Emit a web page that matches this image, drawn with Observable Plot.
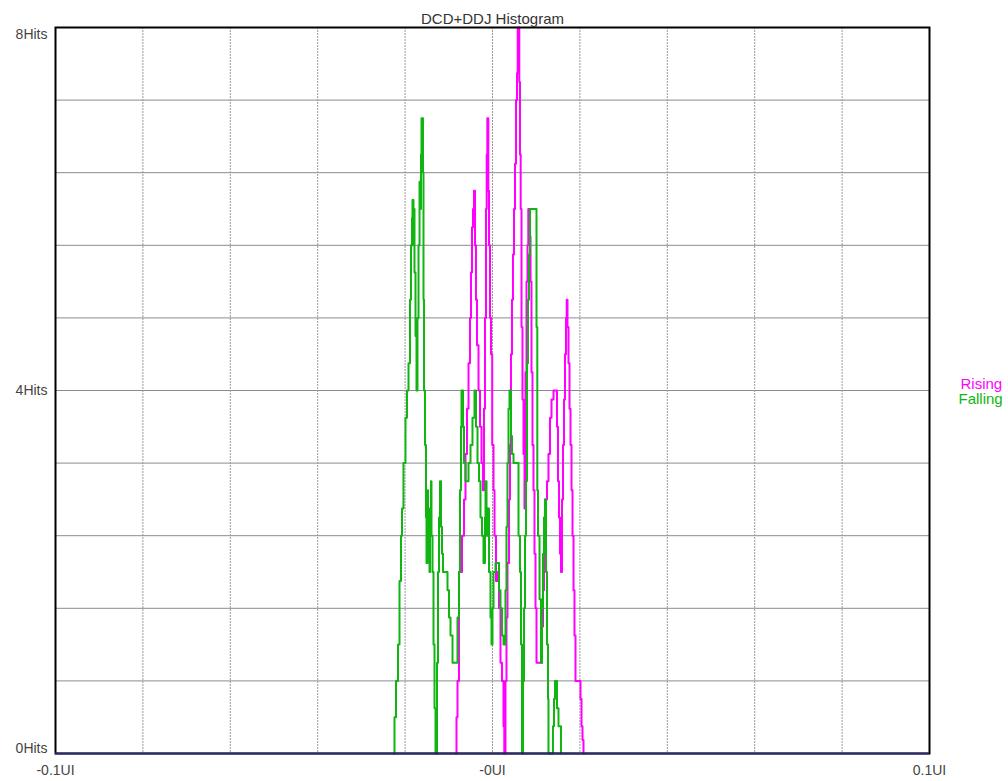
<!DOCTYPE html>
<html>
<head>
<meta charset="utf-8">
<script src="https://cdn.jsdelivr.net/npm/d3@7"></script>
<script src="https://cdn.jsdelivr.net/npm/@observablehq/plot@0.6"></script>
<style>
  html, body { margin: 0; padding: 0; background: #fff; }
  svg { display: block; }
</style>
</head>
<body>
<div id="chart"></div>
<script>
// ---- data (x in milli-UI, y in hits) ----
const chartTitle = "DCD+DDJ Histogram";
const xTicks = [-100, 0, 100];
const xTickLabels = ["-0.1UI", "-0UI", "0.1UI"];
const yTicks = [8, 4, 0];
const yTickLabels = ["8Hits", "4Hits", "0Hits"];
const seriesNames = ["Rising", "Falling"];

const risingX = [-8.35, -8.24, -8.01, -7.67, -6.98, -6.52, -6.18, -5.84, -5.49, -5.15, -4.92, -4.69, -4.46, -4.23, -4.00,
  -3.78, -3.55, -3.20, -2.86, -2.52, -2.17, -1.95, -1.72, -1.49, -1.33, -1.19, -0.96, -0.80, -0.57, -0.34, -0.07,
  0.23, 0.46, 0.80, 1.14, 1.49, 1.83, 2.17, 2.52, 2.70, 2.97, 3.20, 3.43, 3.78, 4.00, 4.23, 4.46, 4.69, 4.92, 5.15,
  5.38, 5.61, 5.77, 6.13, 6.29, 6.45, 6.64, 6.86, 7.09, 7.32, 7.55, 7.78, 8.01, 8.19, 8.47, 8.70, 8.92, 9.15, 9.38,
  9.61, 9.84, 10.07, 11.33, 11.56, 11.78, 12.01, 12.47, 12.81, 13.16, 13.50, 13.96, 14.76, 14.99, 15.22, 15.45, 15.67,
  15.90, 16.13, 16.36, 16.59, 16.82, 16.98, 17.16, 17.39, 17.62, 17.85, 18.08, 18.31, 18.54, 18.76, 18.99, 20.14,
  20.37, 20.59, 20.82];
const risingHits = [0, 0.4, 0.8, 2.0, 2.4, 2.8, 3.3, 3.8, 4.3, 4.8, 5.3, 5.8, 6.0, 6.2, 5.6,
  5.0, 4.5, 4.0, 3.6, 3.2, 2.9, 3.8, 4.8, 6.0, 6.6, 7.0, 6.2, 5.6, 4.8, 4.4, 3.4,
  2.9, 2.4, 1.9, 2.0, 1.6, 1.0, 0.8, 0.3, 0, 0.8, 1.5, 2.1, 2.8, 3.4, 4.4, 5.0, 5.5, 6.0, 6.5,
  7.2, 7.5, 8.0, 7.4, 6.6, 6.0, 4.7, 3.9, 3.3, 2.7, 4.2, 5.2, 5.6, 6.0, 5.7, 5.2, 4.2, 3.4, 2.9,
  2.2, 1.6, 1.0, 1.4, 1.8, 2.4, 2.8, 3.0, 3.3, 3.7, 3.9, 4.0, 3.6, 3.0, 2.6, 2.2, 2.0,
  2.8, 3.4, 3.9, 4.4, 4.8, 5.0, 4.7, 4.3, 3.8, 3.4, 2.9, 2.4, 1.8, 1.3, 0.8, 0.6,
  0.3, 0.15, 0];

const fallingX = [-22.65, -22.43, -22.08, -21.62, -21.28, -20.94, -20.71, -20.37, -19.91, -19.57, -19.22, -18.88,
  -18.65, -18.42, -18.31, -18.08, -17.96, -17.85, -17.62, -17.39, -17.16, -16.93, -16.70, -16.48, -16.36, -16.25,
  -15.90, -15.79, -15.67, -15.45, -15.22, -15.10, -14.87, -14.76, -14.65, -14.42, -14.30, -14.07, -13.96, -13.73,
  -13.50, -13.27, -13.04, -12.70, -12.47, -12.24, -12.01, -11.78, -11.56, -11.33, -10.30, -9.95, -9.61, -9.15,
  -8.01, -7.67, -7.44, -7.21, -7.09, -6.75, -6.52, -6.18, -5.49, -5.03, -4.58, -4.12, -3.78, -3.43, -3.09, -2.75,
  -2.40, -2.06, -1.72, -1.60, -1.37, -1.14, -0.80, -0.46, -0.23, 0, 0.23, 0.69, 1.49, 1.83, 2.17, 2.52, 2.97,
  3.20, 3.43, 3.66, 3.89, 4.23, 4.46, 4.81, 5.95, 6.29, 6.52, 6.75, 6.98, 7.21, 7.44, 7.67, 7.89, 8.12, 8.35,
  8.58, 10.07, 10.25, 10.41, 10.76, 11.10, 11.33, 11.56, 11.78, 12.01, 12.24, 12.47, 12.70, 12.81, 13.84, 14.07,
  14.30, 14.76, 15.10, 15.67];
const fallingHits = [0, 0.4, 0.8, 1.2, 1.9, 2.4, 2.7, 3.2, 3.7, 4.0, 4.3, 5.0,
  5.6, 5.9, 6.1, 5.6, 6.0, 5.3, 4.6, 4.0, 4.8, 5.6, 6.3, 6.0, 6.6, 7.0,
  6.4, 5.0, 4.0, 3.4, 2.6, 2.1, 2.9, 2.3, 2.7, 2.0, 2.5, 3.0, 2.4, 2.0,
  1.2, 0.5, 0, 1.0, 2.0, 2.6, 3.0, 2.5, 2.2, 2.0, 1.8, 1.5, 1.3, 1.0,
  1.5, 2.0, 2.9, 3.6, 4.0, 3.6, 3.2, 3.0, 3.2, 3.4, 3.7, 4.0, 3.6, 3.2, 3.0, 2.6,
  2.4, 2.1, 2.6, 3.0, 2.4, 2.7, 2.0, 1.5, 1.2, 1.6, 2.0, 2.1, 1.8, 1.6, 1.3, 1.2, 1.8,
  2.5, 3.2, 3.8, 4.0, 3.5, 3.3, 3.2, 2.4, 2.0, 1.2, 0, 0.8, 1.6, 2.4, 3.0, 4.3, 5.0, 5.5,
  6.0, 4.7, 2.9, 2.4, 1.7, 1.0, 1.6, 2.2, 2.6, 2.8, 2.0, 1.2, 0.6, 0, 0.3, 0.6,
  0.8, 0.5, 0.3, 0];

const risingColor = "#ff00ff";
const fallingColor = "#11b511";

// ---- build tables ----
const rising = risingX.map((x, i) => ({x, y: risingHits[i]}));
const falling = fallingX.map((x, i) => ({x, y: fallingHits[i]}));

const font = "'Liberation Sans', Arial, sans-serif";

const chart = Plot.plot({
  width: 1008,
  height: 781,
  marginLeft: 55,
  marginRight: 79,
  marginTop: 27,
  marginBottom: 28,
  style: {background: "#fff", fontFamily: font, overflow: "visible"},
  x: {domain: [-100, 100], axis: null},
  y: {domain: [0, 8], axis: null},
  marks: [
    Plot.gridY(d3.range(0, 8.0001, 0.8), {stroke: "#8a8a96", strokeOpacity: 1, strokeWidth: 1}),
    Plot.gridX(d3.range(-100, 100.001, 20), {stroke: "#9a9a9a", strokeOpacity: 1, strokeWidth: 1, strokeDasharray: "2,1"}),
    Plot.line(rising, {x: "x", y: "y", curve: "step-after", stroke: risingColor, strokeWidth: 2}),
    Plot.line(falling, {x: "x", y: "y", curve: "step-after", stroke: fallingColor, strokeWidth: 2}),
    Plot.frame({stroke: "#000", strokeWidth: 2}),
    Plot.ruleY([0], {stroke: "#2a2a70", strokeWidth: 2}),
    // title
    Plot.text([chartTitle], {frameAnchor: "top", lineAnchor: "bottom", dy: -4, text: d => d, fontSize: 15, fill: "#333"}),
    // y tick labels
    Plot.text([yTicks[0]], {y: d => d, text: () => yTickLabels[0], frameAnchor: "left", textAnchor: "end", dx: -8, lineAnchor: "top", dy: 2, fontSize: 14, fill: "#444"}),
    Plot.text([yTicks[1]], {y: d => d, text: () => yTickLabels[1], frameAnchor: "left", textAnchor: "end", dx: -8, lineAnchor: "middle", fontSize: 14, fill: "#444"}),
    Plot.text([yTicks[2]], {y: d => d, text: () => yTickLabels[2], frameAnchor: "left", textAnchor: "end", dx: -8, lineAnchor: "bottom", dy: -1, fontSize: 14, fill: "#444"}),
    // x tick labels
    Plot.text(xTicks, {x: d => d, text: (d, i) => xTickLabels[i], frameAnchor: "bottom", dy: 21, fontSize: 14, fill: "#444"}),
    // legend
    Plot.text([seriesNames[0]], {frameAnchor: "right", text: d => d, textAnchor: "start", dx: 31, dy: -6, fontSize: 15, fill: risingColor}),
    Plot.text([seriesNames[1]], {frameAnchor: "right", text: d => d, textAnchor: "start", dx: 29, dy: 9, fontSize: 15, fill: fallingColor})
  ]
});

document.getElementById("chart").appendChild(chart);
</script>
</body>
</html>
